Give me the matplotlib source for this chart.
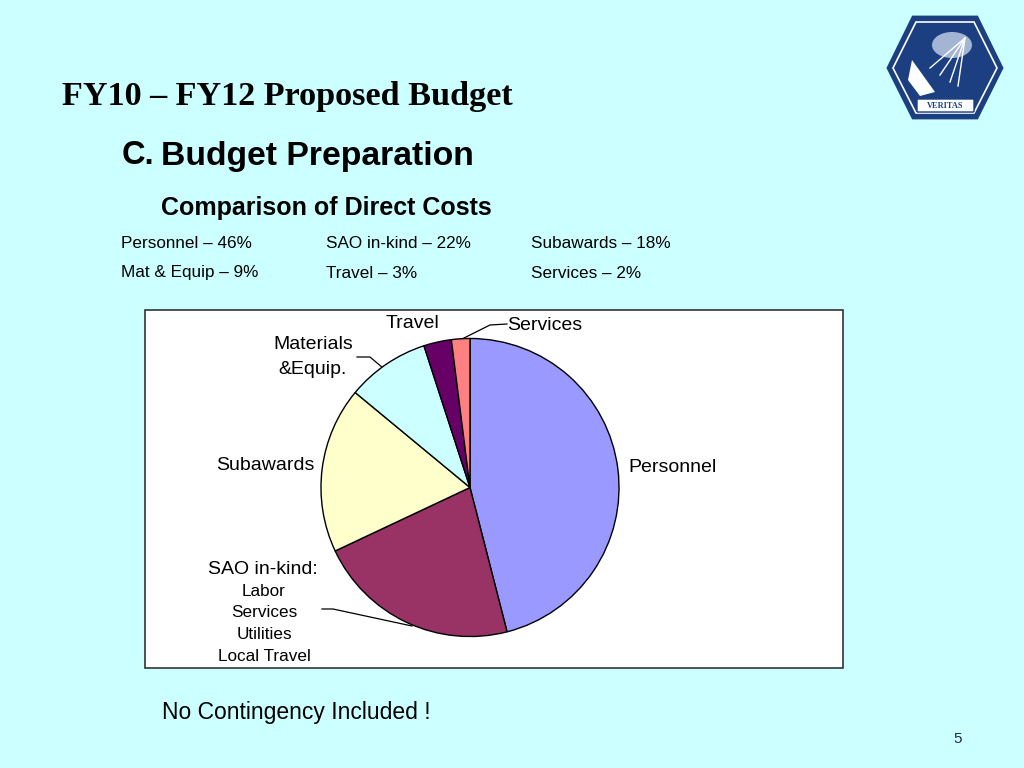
import matplotlib.pyplot as plt
from matplotlib.patches import Polygon, Rectangle, FancyBboxPatch, Ellipse

# Direct cost shares (%), clockwise from 12 o'clock
categories = ["Personnel", "SAO in-kind", "Subawards", "Materials\n&Equip.", "Travel", "Services"]
shares = [46, 22, 18, 9, 3, 2]
colors = ["#9999ff", "#993366", "#ffffcc", "#ccffff", "#660066", "#ff8080"]

summary_rows = [
    ["Personnel – 46%", "SAO in-kind – 22%", "Subawards – 18%"],
    ["Mat & Equip – 9%", "Travel – 3%", "Services – 2%"],
]
sao_items = ["Labor", "Services", "Utilities", "Local Travel"]

bg_color = "#ccffff"
sans = "Liberation Sans"
serif = "Liberation Serif"

fig = plt.figure(figsize=(10.24, 7.68), dpi=100, facecolor=bg_color)

# overlay in pixel coordinates for slide text
bg = fig.add_axes([0, 0, 1, 1])
bg.set_xlim(0, 1024)
bg.set_ylim(768, 0)
bg.axis("off")

# logo (rough)
hexagon = Polygon([(913, 17), (977, 17), (1002, 68), (977, 118), (913, 118), (888, 68)],
                  closed=True, facecolor="#1b3f80", edgecolor="#1b3f80", lw=2)
bg.add_patch(hexagon)
inner = Polygon([(916, 22), (974, 22), (997, 68), (974, 113), (916, 113), (893, 68)],
                closed=True, facecolor="none", edgecolor="white", lw=1.2)
bg.add_patch(inner)
bg.add_patch(Ellipse((952, 45), 40, 26, facecolor="#c8d4ea", edgecolor="none", alpha=0.8))
for ex, ey in [(930, 68), (940, 75), (950, 82), (958, 86)]:
    bg.plot([965, ex], [38, ey], color="white", lw=1)
bg.add_patch(Polygon([(912, 60), (935, 92), (920, 96), (908, 80)], closed=True,
                     facecolor="white", edgecolor="none"))
bg.add_patch(FancyBboxPatch((918, 100), 55, 11, boxstyle="round,pad=1",
                            facecolor="white", edgecolor="#1b3f80", lw=1))
bg.text(945.5, 106, "VERITAS", fontsize=6, fontweight="bold", family=serif,
        color="#1b3f80", ha="center", va="center")

# titles
bg.text(62, 97, "FY10 – FY12 Proposed Budget", fontsize=24.6, fontweight="bold",
        family=serif, ha="left", va="center", color="black")
bg.text(122, 156, "C.", fontsize=23.5, fontweight="bold", family=sans, ha="left", va="center")
bg.text(161, 156, "Budget Preparation", fontsize=24.3, fontweight="bold", family=sans,
        ha="left", va="center")
bg.text(161, 208, "Comparison of Direct Costs", fontsize=18, fontweight="bold", family=sans,
        ha="left", va="center")

col_x = [121, 326, 531]
row_y = [243, 273]
for r, row in enumerate(summary_rows):
    for c, txt in enumerate(row):
        bg.text(col_x[c], row_y[r], txt, fontsize=12.3, family=sans, ha="left", va="center")

bg.text(162, 713, "No Contingency Included !", fontsize=16.5, family=sans, ha="left", va="center")
bg.text(958, 739, "5", fontsize=11, family="Liberation Sans", color="#1f2a4a", ha="center", va="center")

# chart box
bg.add_patch(Rectangle((145, 310), 698, 358, facecolor="white", edgecolor="#333333", lw=1.2))

# pie labels
lab = dict(fontsize=14, family=sans, color="black")
bg.text(413, 324, categories[4], ha="center", va="center", **lab)
bg.text(507, 326, categories[5], ha="left", va="center", **lab)
bg.text(313, 357, categories[3], ha="center", va="center", linespacing=1.55, **lab)
bg.text(265, 466, categories[2], ha="center", va="center", **lab)
bg.text(628, 468, categories[0], ha="left", va="center", **lab)
bg.text(263, 569, categories[1] + ":", ha="center", va="center", **lab)
for i, item in enumerate(sao_items):
    bg.text(264, 591 + i * 21.7, item, ha="center", va="center", fontsize=12.3, family=sans)

# leader lines
bg.plot([507, 490, 462], [324, 325, 339], color="black", lw=0.9)
bg.plot([357, 370, 383], [357, 357, 368], color="black", lw=0.9)
bg.plot([322, 333, 412], [609, 609, 626], color="black", lw=0.9)

# pie
cx, cy, rad = 470, 487.5, 152
pie_ax = fig.add_axes([(cx - rad) / 1024, (768 - cy - rad) / 768, 2 * rad / 1024, 2 * rad / 768])
pie_ax.pie(shares, colors=colors, startangle=90, counterclock=False,
           wedgeprops=dict(edgecolor="black", linewidth=1.0))
pie_ax.set_xlim(-1.02, 1.02)
pie_ax.set_ylim(-1.02, 1.02)
pie_ax.set_aspect("equal")
pie_ax.axis("off")

fig.savefig("out.png", dpi=100, facecolor=bg_color)
